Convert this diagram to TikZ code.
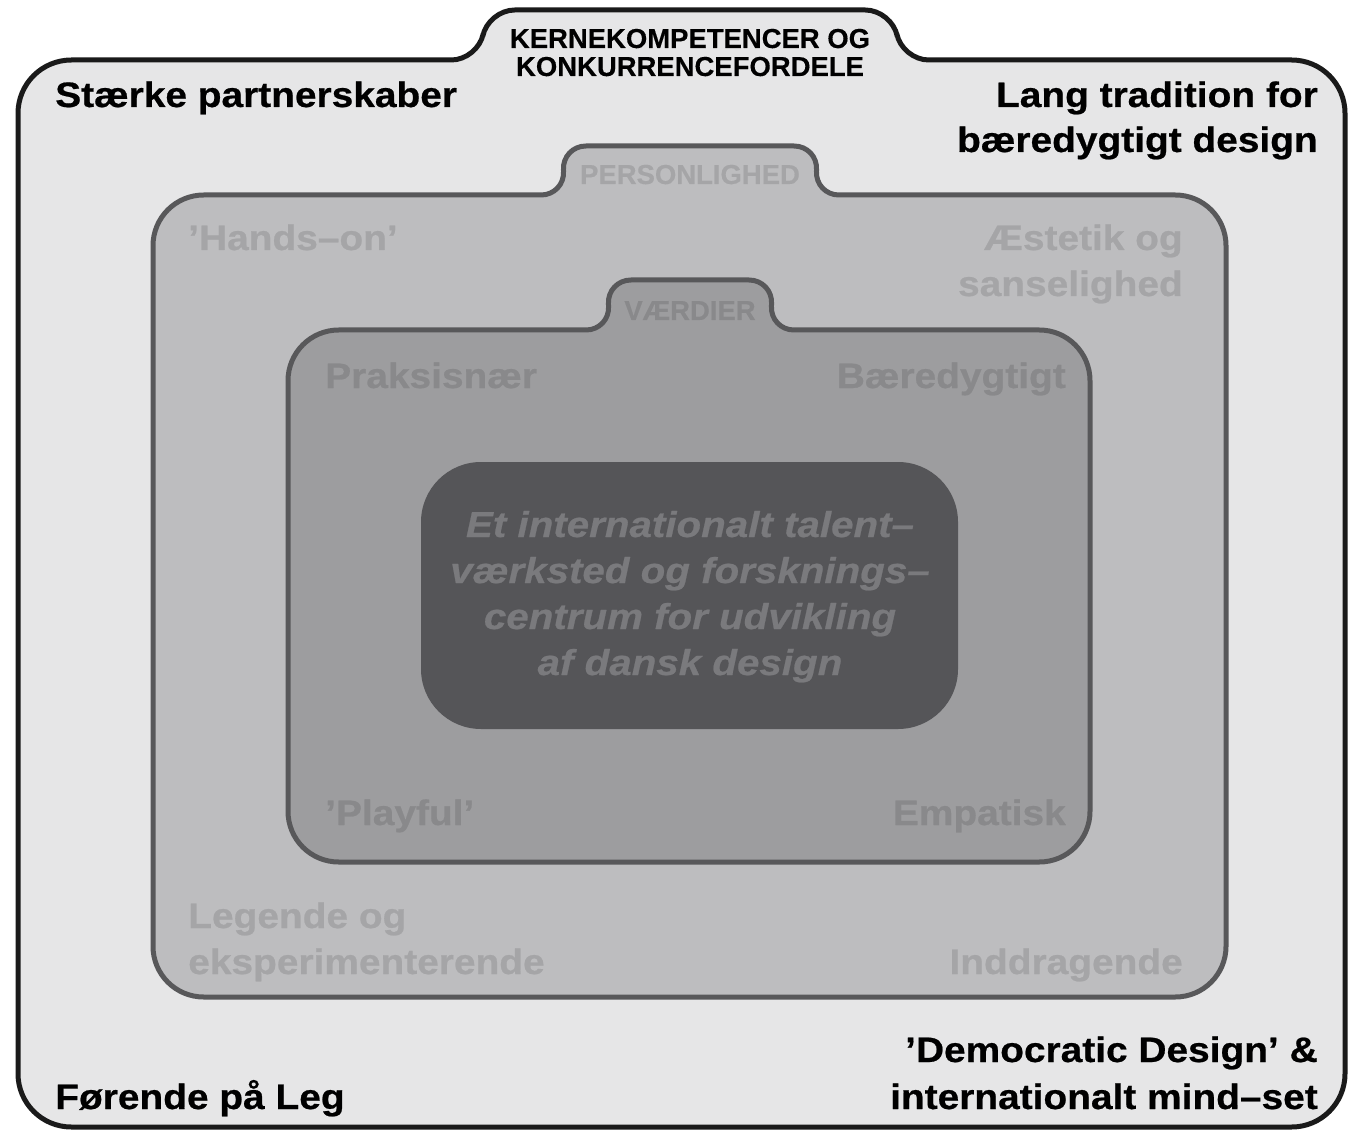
\documentclass[tikz,border=0pt]{standalone}
\usepackage{fontspec}
\setmainfont{Liberation Sans}
\newfontfamily\tabfont{Liberation Sans Bold}[FakeBold=0.3]
\newfontfamily\lblfont{Liberation Sans Bold}[FakeStretch=1.1,FakeBold=0.6]
\newfontfamily\ctrfont{Liberation Sans Bold Italic}[FakeStretch=1.12,FakeBold=0.6]
\definecolor{c1}{HTML}{E6E6E7}
\definecolor{c2}{HTML}{BDBDBF}
\definecolor{c3}{HTML}{9D9D9F}
\definecolor{c4}{HTML}{555558}
\definecolor{t2}{HTML}{A5A5A7}
\definecolor{t3}{HTML}{89898B}
\definecolor{t4}{HTML}{7A7A7D}
\definecolor{edgegray}{HTML}{58585A}
\definecolor{edgeblack}{HTML}{1A1A1A}
\tikzset{
  lbl/.style={font=\lblfont\fontsize{26.5}{34}\selectfont, inner sep=0pt},
  tabtxt/.style={font=\tabfont\fontsize{20.6}{21}\selectfont, inner sep=0pt},
  ctrtxt/.style={font=\ctrfont\fontsize{27}{34.5}\selectfont, inner sep=0pt, text=t4},
  layer/.style={line width=3.75pt, line join=round},
}
\begin{document}
\begin{tikzpicture}[x=0.75pt,y=-0.75pt]
\useasboundingbox (0,0) rectangle (1348,1130);
\fill[white] (0,0) rectangle (1348,1130);
% outer layer
\filldraw[layer, fill=c1, draw=edgeblack]
  (18,600) [rounded corners=40] -- (18,60) -- (380,60) [rounded corners=20] -- (478,60) -- (488,10) -- (892,10) -- (902,60) -- (1000,60) [rounded corners=40] -- (1345,60) -- (1345,1127) -- (18,1127) -- cycle;
% personlighed layer
\filldraw[layer, fill=c2, draw=edgegray]
  (153,600) [rounded corners=38] -- (153,195) -- (450,195) [rounded corners=18] -- (565,195) -- (562,146) -- (818,146) -- (815,195) -- (930,195) [rounded corners=38] -- (1226,195) -- (1226,997) -- (153,997) -- cycle;
% vaerdier layer
\filldraw[layer, fill=c3, draw=edgegray]
  (288,600) [rounded corners=38] -- (288,330) -- (500,330) [rounded corners=18] -- (610,330) -- (607,280) -- (773,280) -- (770,330) -- (880,330) [rounded corners=38] -- (1090,330) -- (1090,862) -- (288,862) -- cycle;
% center
\fill[c4, rounded corners=45] (421,462) rectangle (958,729);

% tab titles
\node[tabtxt, anchor=base, text=black] (k1) at (690,48) {KERNEKOMPETENCER OG};
\node[tabtxt, anchor=base, text=black] (k2) at (690,76) {KONKURRENCEFORDELE};
\node[tabtxt, anchor=base, text=t2] (pers) at (690,184) {PERSONLIGHED};
\node[tabtxt, anchor=base, text=t3] (vaer) at (690,320) {VÆRDIER};

% outer labels
\node[lbl, anchor=base west, text=black] (sp) at (55,107) {Stærke partnerskaber};
\node[lbl, anchor=base east, text=black] (lt1) at (1318,107) {Lang tradition for};
\node[lbl, anchor=base east, text=black] (lt2) at (1318,152) {bæredygtigt design};
\node[lbl, anchor=base west, text=black] (fl) at (55,1109) {Førende på Leg};
\node[lbl, anchor=base east, text=black] (dd1) at (1318,1062) {’Democratic Design’ \&};
\node[lbl, anchor=base east, text=black] (dd2) at (1318,1109) {internationalt mind–set};

% personlighed labels
\node[lbl, anchor=base west, text=t2] (ho) at (188,250) {’Hands–on’};
\node[lbl, anchor=base east, text=t2] (ae1) at (1183,250) {Æstetik og};
\node[lbl, anchor=base east, text=t2] (ae2) at (1183,296) {sanselighed};
\node[lbl, anchor=base west, text=t2] (le1) at (188,928) {Legende og};
\node[lbl, anchor=base west, text=t2] (le2) at (188,974) {eksperimenterende};
\node[lbl, anchor=base east, text=t2] (ind) at (1183,974) {Inddragende};

% vaerdier labels
\node[lbl, anchor=base west, text=t3] (pr) at (325,388) {Praksisnær};
\node[lbl, anchor=base east, text=t3] (bd) at (1066,388) {Bæredygtigt};
\node[lbl, anchor=base west, text=t3] (pf) at (325,825) {’Playful’};
\node[lbl, anchor=base east, text=t3] (em) at (1066,825) {Empatisk};

% center text
\node[ctrtxt, anchor=base] (c1) at (690,537) {Et internationalt talent–};
\node[ctrtxt, anchor=base] (c2) at (690,583) {værksted og forsknings–};
\node[ctrtxt, anchor=base] (c3) at (690,629) {centrum for udvikling};
\node[ctrtxt, anchor=base] (c4) at (690,675) {af dansk design};
\end{tikzpicture}
\end{document}
